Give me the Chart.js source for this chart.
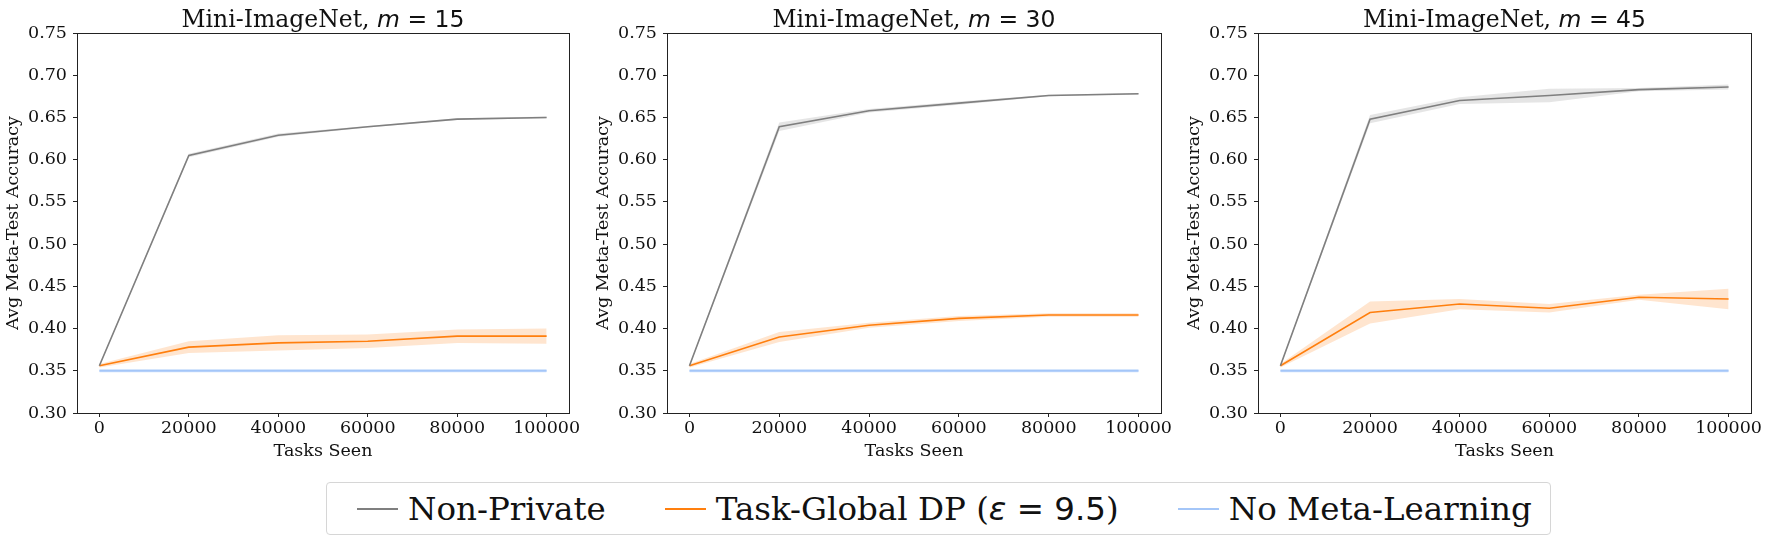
<!DOCTYPE html>
<html>
<head>
<meta charset="utf-8">
<script src="https://cdn.jsdelivr.net/npm/chart.js@4.4.1/dist/chart.umd.min.js"></script>
<style>
  body { margin: 0; background: #fff; width: 1769px; height: 543px; position: relative; overflow: hidden; }
  .panel { position: absolute; top: 0; height: 470px; }
  .legend {
    position: absolute; left: 326px; top: 482px; width: 1225px; height: 53px; box-sizing: border-box;
    border: 1px solid #d6d6d6; border-radius: 4px; display: flex; align-items: center; justify-content: flex-start;
    padding-left: 30px; font-family: "DejaVu Serif", serif; font-size: 32.5px; color: #111;
  }
  .legend .item { display: flex; align-items: center; margin-right: 59px; white-space: nowrap; }
  .legend .item:last-child { margin-right: 0; }
  .legend .swatch { width: 41px; height: 2px; margin-right: 10px; }
  .legend .math { font-family: "DejaVu Sans", sans-serif; }
  .legend .math i { font-style: oblique; }
</style>
</head>
<body>
<div class="panel" style="left:0px;width:587px"><canvas id="c0"></canvas></div>
<div class="panel" style="left:590px;width:589px"><canvas id="c1"></canvas></div>
<div class="panel" style="left:1181px;width:588px"><canvas id="c2"></canvas></div>
<div class="legend" id="legend"></div>
<script>
// x values and tick labels
const tasksSeen = [0, 20000, 40000, 60000, 80000, 100000];
const xTicks = [0, 20000, 40000, 60000, 80000, 100000];
const yTicks = [0.30, 0.35, 0.40, 0.45, 0.50, 0.55, 0.60, 0.65, 0.70, 0.75];

const shotCounts = [15, 30, 45];
const seriesNames = ['Non-Private', 'Task-Global DP (ε = 9.5)', 'No Meta-Learning'];
const seriesColors = ['#7f7f7f', '#ff7f0e', '#a4c6f8'];
const bandColors = ['rgba(127,127,127,0.2)', 'rgba(255,127,14,0.2)', 'rgba(164,198,248,0.3)'];

// m = 15
const nonPrivate15 = [0.356, 0.605, 0.629, 0.639, 0.648, 0.650];
const nonPrivate15Err = [0.001, 0.002, 0.002, 0.001, 0.001, 0.001];
const dp15 = [0.356, 0.378, 0.383, 0.385, 0.391, 0.391];
const dp15Err = [0.002, 0.007, 0.009, 0.008, 0.008, 0.009];
// m = 30
const nonPrivate30 = [0.356, 0.639, 0.658, 0.667, 0.676, 0.678];
const nonPrivate30Err = [0.001, 0.005, 0.002, 0.002, 0.001, 0.001];
const dp30 = [0.356, 0.390, 0.404, 0.412, 0.416, 0.416];
const dp30Err = [0.002, 0.006, 0.003, 0.003, 0.002, 0.002];
// m = 45
const nonPrivate45 = [0.356, 0.648, 0.670, 0.676, 0.683, 0.686];
const nonPrivate45Err = [0.001, 0.005, 0.004, 0.008, 0.002, 0.003];
const dp45 = [0.356, 0.419, 0.429, 0.424, 0.437, 0.435];
const dp45Err = [0.002, 0.013, 0.006, 0.005, 0.003, 0.012];
// baseline (same for all)
const noMeta = [0.350, 0.350, 0.350, 0.350, 0.350, 0.350];
const noMetaErr = [0.002, 0.002, 0.002, 0.002, 0.002, 0.002];

const panels = [
  { nonPrivate: nonPrivate15, nonPrivateErr: nonPrivate15Err, dp: dp15, dpErr: dp15Err },
  { nonPrivate: nonPrivate30, nonPrivateErr: nonPrivate30Err, dp: dp30, dpErr: dp30Err },
  { nonPrivate: nonPrivate45, nonPrivateErr: nonPrivate45Err, dp: dp45, dpErr: dp45Err }
];

const serif = '"DejaVu Serif", serif';
const fs = 17.5;
const toPoints = (vals, off) => tasksSeen.map((x, i) => ({ x: x, y: vals[i] + (off ? off[i] : 0) }));

// box around the plot area + mixed font title
const frame = {
  id: 'frame',
  afterDraw(chart) {
    const { ctx, chartArea: a } = chart;
    ctx.save();
    ctx.strokeStyle = '#222';
    ctx.lineWidth = 1;
    ctx.strokeRect(Math.round(a.left) + 0.5, Math.round(a.top) + 0.5, Math.round(a.right - a.left), Math.round(a.bottom - a.top));
    const parts = chart.options.plugins.frame.parts;
    let w = 0;
    parts.forEach(p => { ctx.font = p.font; w += ctx.measureText(p.text).width; });
    let x = (a.left + a.right) / 2 - w / 2;
    ctx.fillStyle = '#111';
    ctx.textBaseline = 'alphabetic';
    parts.forEach(p => { ctx.font = p.font; ctx.fillText(p.text, x, 27); x += ctx.measureText(p.text).width; });
    ctx.restore();
  }
};

panels.forEach((p, k) => {
  const sets = [
    [p.nonPrivate, p.nonPrivateErr, 0],
    [p.dp, p.dpErr, 1],
    [noMeta, noMetaErr, 2]
  ];
  const datasets = [];
  sets.forEach(([vals, err, c]) => {
    datasets.push({ data: toPoints(vals, err), borderWidth: 0, pointRadius: 0, fill: false, order: 10 });
    datasets.push({ data: toPoints(vals, err.map(e => -e)), borderWidth: 0, pointRadius: 0, fill: '-1', backgroundColor: bandColors[c], order: 10 });
  });
  sets.forEach(([vals, err, c]) => {
    datasets.push({ label: seriesNames[c], data: toPoints(vals), borderColor: seriesColors[c], borderWidth: c === 2 ? 2 : 1.6, pointRadius: 0, fill: false, order: 1 });
  });

  new Chart(document.getElementById('c' + k), {
    type: 'line',
    data: { datasets },
    plugins: [frame],
    options: {
      responsive: true,
      maintainAspectRatio: false,
      animation: false,
      layout: { padding: { top: 33, right: 18, left: 0, bottom: 0 } },
      plugins: {
        legend: { display: false },
        tooltip: { enabled: false },
        frame: {
          parts: [
            { text: 'Mini-ImageNet, ', font: '23.5px ' + serif },
            { text: 'm', font: 'oblique 23.5px "DejaVu Sans"' },
            { text: ' = ' + shotCounts[k], font: '23.5px "DejaVu Sans"' }
          ]
        }
      },
      scales: {
        x: {
          type: 'linear', min: -5000, max: 105000,
          afterBuildTicks: s => { s.ticks = xTicks.map(v => ({ value: v })); },
          afterFit: s => { s.height = 57; },
          grid: { display: true, drawOnChartArea: false, drawTicks: true, tickLength: 4, color: '#222' },
          border: { display: false },
          ticks: { color: '#111', font: { family: serif, size: fs }, padding: 1, maxRotation: 0, callback: v => String(v) },
          title: { display: true, text: 'Tasks Seen', color: '#111', font: { family: serif, size: fs }, padding: { top: 0, bottom: 8 } }
        },
        y: {
          min: 0.30, max: 0.75,
          afterBuildTicks: s => { s.ticks = yTicks.map(v => ({ value: v })); },
          afterFit: s => { s.width = 77; },
          grid: { display: true, drawOnChartArea: false, drawTicks: true, tickLength: 4, color: '#222' },
          border: { display: false },
          ticks: { color: '#111', font: { family: serif, size: fs }, padding: 6, callback: v => v.toFixed(2) },
          title: { display: true, text: 'Avg Meta-Test Accuracy', color: '#111', font: { family: serif, size: fs }, padding: { top: 3, bottom: 0 } }
        }
      }
    }
  });
});

// shared legend
const legend = document.getElementById('legend');
seriesNames.forEach((name, i) => {
  const item = document.createElement('div');
  item.className = 'item';
  const sw = document.createElement('span');
  sw.className = 'swatch';
  sw.style.background = seriesColors[i];
  const label = document.createElement('span');
  if (name.includes('ε')) {
    label.innerHTML = 'Task-Global DP (<span class="math"><i>ε</i> = 9.5</span>)';
  } else {
    label.textContent = name;
  }
  item.appendChild(sw);
  item.appendChild(label);
  legend.appendChild(item);
});
</script>
</body>
</html>
